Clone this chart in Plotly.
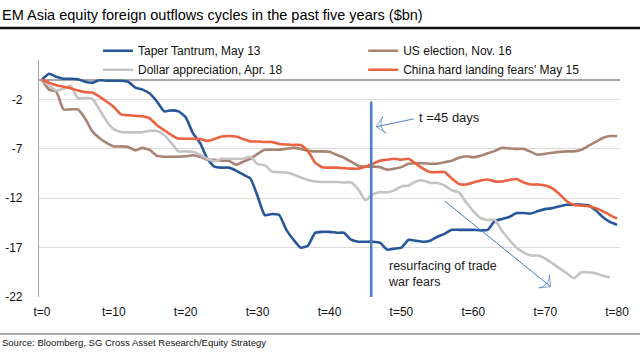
import plotly.graph_objects as go

t = list(range(0, 81))

taper_tantrum = [0, 0.6, 0.3, 0.1, 0.1, 0.05, -0.2, -0.3, -0.05, -0.1,
                 -0.1, -0.1, -0.2, -0.8, -1.0, -1.4, -2.2, -3.2, -3.1, -3.2,
                 -3.8, -5.4, -6.4, -8.0, -8.8, -8.9, -8.9, -9.2, -9.6, -10.0,
                 -11.8, -13.7, -13.6, -13.7, -15.2, -16.2, -17.0, -16.8, -15.5, -15.4,
                 -15.4, -15.5, -15.5, -16.2, -16.4, -16.4, -16.4, -16.5, -17.2, -17.1,
                 -17.0, -16.2, -16.3, -16.4, -16.3, -15.9, -15.6, -15.2, -15.2, -15.2,
                 -15.2, -15.25, -15.2, -14.3, -14.1, -13.9, -13.5, -13.5, -13.55, -13.3,
                 -13.1, -13.0, -12.8, -12.65, -12.65, -12.65, -12.7, -13.2, -13.9, -14.4,
                 -14.7]

us_election = [0, -1.0, -1.2, -3.0, -3.0, -3.0, -3.9, -5.2, -5.9, -6.4,
               -6.75, -6.75, -6.8, -7.15, -6.9, -7.1, -7.7, -7.8, -7.8, -7.8,
               -7.75, -7.65, -7.8, -8.1, -8.1, -8.2, -8.2, -8.6, -8.3, -8.0,
               -7.5, -7.1, -7.08, -7.08, -7.0, -6.9, -7.0, -7.2, -7.25, -7.25,
               -7.3, -7.6, -7.9, -8.3, -8.7, -8.8, -8.8, -8.85, -9.1, -9.0,
               -8.85, -8.5, -8.45, -8.45, -8.5, -8.5, -8.35, -8.2, -7.9, -7.75,
               -7.85, -7.7, -7.45, -7.2, -6.9, -6.95, -7.0, -7.0, -7.3, -7.6,
               -7.5, -7.4, -7.3, -7.25, -7.25, -7.1, -6.7, -6.3, -5.9, -5.7,
               -5.7]

dollar_appreciation = [0, -0.6, -1.1, -0.9, -0.6, -1.85, -1.85, -1.9, -3.0, -4.2,
                       -5.0, -5.3, -5.33, -5.33, -5.3, -5.16, -5.2, -5.6, -6.4, -7.25,
                       -7.25, -7.3, -7.6, -8.0, -8.25, -8.0, -8.0, -8.0, -8.0, -7.8,
                       -8.55, -8.65, -9.3, -9.35, -9.4, -9.6, -9.9, -10.15, -10.3, -10.35,
                       -10.35, -10.35, -10.4, -10.4, -11.1, -12.2, -11.6, -11.4, -11.4, -11.2,
                       -10.8, -10.7, -10.3, -10.2, -10.45, -10.45, -10.7, -11.2, -11.4, -12.4,
                       -13.3, -14.0, -14.2, -14.2, -15.3, -16.2, -17.0, -17.5, -17.8, -17.8,
                       -18.1, -18.6, -19.1, -19.6, -20.1, -19.5, -19.5, -19.6, -19.85, -20.0,
                       None]

china_hard_landing = [0, -0.3, -0.55, -0.7, -0.85, -1.1, -1.25, -1.3, -1.7, -2.2,
                      -2.75, -3.5, -3.6, -3.65, -3.7, -3.9, -4.6, -5.1, -5.6, -5.95,
                      -5.97, -5.97, -6.0, -6.2, -6.0, -5.75, -5.7, -5.75, -6.0, -6.25,
                      -6.25, -6.3, -6.3, -6.5, -6.55, -6.6, -6.6, -7.2, -8.4, -8.85,
                      -8.9, -8.9, -8.95, -9.0, -9.0, -8.8, -8.5, -8.2, -8.1, -8.0,
                      -8.1, -8.0, -8.5, -9.0, -9.35, -9.35, -9.35, -10.0, -10.55, -10.6,
                      -10.4, -10.2, -10.1, -10.3, -10.3, -10.15, -10.05, -10.4, -10.6, -10.6,
                      -10.7, -11.0, -11.6, -12.3, -12.65, -12.75, -12.8, -13.0, -13.3, -13.7,
                      -14.06]

series_names = ["Taper Tantrum, May 13", "US election, Nov. 16",
                "Dollar appreciation, Apr. 18", "China hard landing fears' May 15"]
series_values = [taper_tantrum, us_election, dollar_appreciation, china_hard_landing]
series_colors = ["#27569B", "#A88372", "#C3C3C3", "#EA6240"]
series_legend = ["legend", "legend2", "legend", "legend2"]

x_tick_vals = [0, 10, 20, 30, 40, 50, 60, 70, 80]
x_tick_text = ["t=0", "t=10", "t=20", "t=30", "t=40", "t=50", "t=60", "t=70", "t=80"]
y_tick_vals = [-2, -7, -12, -17, -22]
y_tick_text = ["-2", "-7", "-12", "-17", "-22"]

event_t = 45.8
event_label = "t =45 days"
trade_label = "resurfacing of trade<br>war fears"

FONT = "Liberation Sans, Arial, sans-serif"
ANN_BLUE = "#4A7EC4"

fig = go.Figure()
for name, vals, col, lg in zip(series_names, series_values, series_colors, series_legend):
    fig.add_trace(go.Scatter(
        x=t, y=vals, name=name, mode="lines", legend=lg,
        line=dict(color=col, width=2.6, shape="spline", smoothing=0.5),
        hoverinfo="skip"))

# event line t = 45 days
fig.add_shape(type="line", xref="x", yref="y", x0=event_t, x1=event_t, y0=-22, y1=-2.2,
              line=dict(color=ANN_BLUE, width=2.5))

# arrows (line + open arrow head marker)
arrow_specs = [([51.7, 46.5], [-3.97, -4.75]), ([56.0, 70.75], [-12.27, -20.95])]
for ax_, ay_ in arrow_specs:
    fig.add_trace(go.Scatter(
        x=ax_, y=ay_, mode="lines+markers", showlegend=False, hoverinfo="skip",
        line=dict(color=ANN_BLUE, width=1),
        marker=dict(symbol=["circle", "arrow-wide-open"], size=[0, 12], angleref="previous",
                    color=ANN_BLUE, line=dict(color=ANN_BLUE, width=1))))

fig.add_annotation(x=52.1, y=-3.8, xref="x", yref="y", text=event_label, showarrow=False,
                   xanchor="left", yanchor="middle", font=dict(family=FONT, size=13, color="#1a1a1a"))
fig.add_annotation(x=47.8, y=-19.65, xref="x", yref="y", text=trade_label, showarrow=False,
                   xanchor="left", yanchor="middle", align="left",
                   font=dict(family=FONT, size=12.5, color="#1a1a1a"))

# title / source
fig.add_annotation(x=-0.0671, y=1.19, xref="paper", yref="paper",
                   text="EM Asia equity foreign outflows cycles in the past five years ($bn)",
                   showarrow=False, xanchor="left", yanchor="middle",
                   font=dict(family=FONT, size=14.5, color="#000000"))
fig.add_shape(type="line", xref="paper", yref="paper", x0=-0.0671, x1=1.0344, y0=1.135, y1=1.135,
              line=dict(color="#111111", width=2.5))
fig.add_shape(type="line", xref="paper", yref="paper", x0=-0.0671, x1=1.0344, y0=-0.156, y1=-0.156,
              line=dict(color="#8c8c8c", width=1.5))
fig.add_annotation(x=-0.0671, y=-0.194, xref="paper", yref="paper",
                   text="Source: Bloomberg, SG Cross Asset Research/Equity Strategy",
                   showarrow=False, xanchor="left", yanchor="middle",
                   font=dict(family=FONT, size=9.5, color="#111111"))

legend_common = dict(yanchor="top", xanchor="left", bgcolor="rgba(0,0,0,0)",
                     font=dict(family=FONT, size=12, color="#111111"),
                     tracegroupgap=0, itemwidth=30)
fig.update_layout(
    width=640, height=360,
    margin=dict(l=39, r=20, t=60, b=63, autoexpand=False),
    paper_bgcolor="white", plot_bgcolor="white",
    font=dict(family=FONT, size=12, color="#111111"),
    legend=dict(x=0.1015, y=1.10, **legend_common),
    legend2=dict(x=0.558, y=1.10, **legend_common),
    xaxis=dict(range=[-0.4, 80.4], tickvals=x_tick_vals, ticktext=x_tick_text,
               showgrid=False, zeroline=False, showline=False, ticks="",
               ticklabelstandoff=6, tickfont=dict(family=FONT, size=12, color="#111111")),
    yaxis=dict(range=[-22, 2], tickvals=y_tick_vals, ticktext=y_tick_text,
               showgrid=True, gridcolor="#DCDCDC", gridwidth=1,
               zeroline=True, zerolinecolor="#A6A6A6", zerolinewidth=1.5,
               showline=True, linecolor="#A6A6A6", linewidth=1.2, ticks="",
               ticklabelstandoff=13, tickfont=dict(family=FONT, size=12, color="#111111")),
)

fig.write_html("out.html", config={"displayModeBar": False},
               post_script="document.body.style.margin='0';")
